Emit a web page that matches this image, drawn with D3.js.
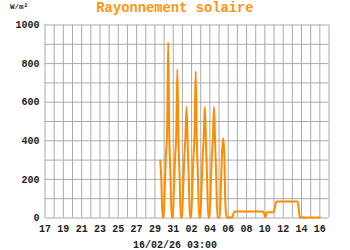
<!DOCTYPE html>
<html>
<head>
  <meta charset="UTF-8">
  <title>Rayonnement solaire</title>
  <script src="https://d3js.org/d3.v7.min.js"></script>
  <style>
    body { margin: 0; background: #fff; }
    svg text { font-family: "Liberation Mono", "Courier New", monospace; font-weight: bold; }
  </style>
</head>
<body>
  <svg width="350" height="250"></svg>
  <script>
    // Chart data (3-hour samples, first sample 29/01 15:00)
    const startTime = new Date(2026, 0, 29, 15);
    const stepHours = 3;
    const radiation = [
      299, 200, 0,                            // 29/01 15h..21h
      0, 150, 320, 430, 908, 410, 220, 0,     // 30/01
      0, 140, 310, 420, 767, 400, 210, 0,     // 31/01
      0, 130, 300, 410, 575, 390, 200, 0,     // 01/02
      0, 140, 310, 420, 758, 400, 210, 0,     // 02/02
      0, 130, 300, 410, 572, 390, 200, 0,     // 03/02
      0, 130, 300, 410, 572, 390, 200, 0,     // 04/02
      0, 0, 150, 330, 411, 330, 60, 0,        // 05/02
      0, 0, 0, 0, 0, 20, 31, 31,              // 06/02
      31, 31, 31, 31, 31, 31, 31, 31,         // 07/02
      31, 31, 31, 31, 31, 31, 31, 31,         // 08/02
      31, 31, 31, 31, 31, 31, 31, 31,         // 09/02
      15, 0, 27, 27, 27, 27, 27, 27,          // 10/02
      27, 45, 75, 83, 83, 83, 83, 83,         // 11/02
      83, 83, 83, 83, 83, 83, 83, 83,         // 12/02
      83, 83, 83, 83, 83, 83, 45, 0,          // 13/02
      0, 0, 0, 0, 0, 0, 0, 0,                 // 14/02
      0, 0, 0, 0, 0, 0, 0, 0,                 // 15/02
      0, 0                                    // 16/02 00h..03h
    ];

    // Axis ticks
    const xStart = new Date(2026, 0, 17);
    const xEnd = new Date(2026, 1, 17);
    const xTickDates = [
      "2026-01-17", "2026-01-19", "2026-01-21", "2026-01-23", "2026-01-25", "2026-01-27",
      "2026-01-29", "2026-01-31", "2026-02-02", "2026-02-04", "2026-02-06", "2026-02-08",
      "2026-02-10", "2026-02-12", "2026-02-14", "2026-02-16"
    ];
    const yTicks = [0, 200, 400, 600, 800, 1000];

    const title = "Rayonnement solaire";
    const unitLabel = "W/m²";
    const stampLabel = "16/02/26 03:00";

    const margin = { top: 24, right: 22, bottom: 33, left: 44 };
    const width = 350 - margin.left - margin.right;
    const height = 250 - margin.top - margin.bottom;

    const parseDay = d3.timeParse("%Y-%m-%d");
    const data = radiation.map((v, i) => ({ t: d3.timeHour.offset(startTime, i * stepHours), v: v }));

    const x = d3.scaleTime().domain([xStart, xEnd]).range([0, width]);
    const y = d3.scaleLinear().domain([0, 1000]).range([height, 0]);

    const svg = d3.select("svg");
    const g = svg.append("g")
      .attr("transform", `translate(${margin.left + 0.5}, ${margin.top + 0.5})`);

    // vertical grid, one line per day
    g.append("g")
      .attr("transform", `translate(0, ${height})`)
      .call(d3.axisBottom(x).tickValues(d3.timeDay.range(xStart, d3.timeDay.offset(xEnd, 1))).tickSize(-height).tickFormat(""))
      .call(a => a.select(".domain").remove())
      .call(a => a.selectAll("line").attr("stroke", "#aaa").attr("stroke-width", 1));

    // horizontal grid, every 100
    g.append("g")
      .call(d3.axisLeft(y).ticks(10).tickSize(-width).tickFormat(""))
      .call(a => a.select(".domain").remove())
      .call(a => a.selectAll("line").attr("stroke", "#aaa").attr("stroke-width", 1));

    // x labels
    g.append("g")
      .attr("transform", `translate(0, ${height})`)
      .call(d3.axisBottom(x).tickValues(xTickDates.map(parseDay)).tickSize(0).tickPadding(7).tickFormat(d3.timeFormat("%d")))
      .call(a => a.select(".domain").remove())
      .call(a => a.selectAll("text").attr("fill", "#222").style("font-size", "10px"));

    // y labels
    g.append("g")
      .call(d3.axisLeft(y).tickValues(yTicks).tickSize(0).tickPadding(5).tickFormat(d3.format("d")))
      .call(a => a.select(".domain").remove())
      .call(a => a.selectAll("text").attr("fill", "#222").style("font-size", "10px"));

    // series
    g.append("path")
      .datum(data)
      .attr("fill", "none")
      .attr("stroke", "#ff8c00")
      .attr("stroke-width", 2)
      .attr("stroke-linejoin", "round")
      .attr("d", d3.line().curve(d3.curveMonotoneX).x(d => x(d.t)).y(d => y(d.v)));

    // texts
    svg.append("text")
      .attr("x", 175).attr("y", 12)
      .attr("text-anchor", "middle")
      .attr("fill", "#ff9411")
      .style("font-size", "13.8px")
      .text(title);

    svg.append("text")
      .attr("x", 10).attr("y", 9)
      .attr("fill", "#222")
      .style("font-size", "7.5px")
      .text(unitLabel);

    svg.append("text")
      .attr("x", 175).attr("y", 247.5)
      .attr("text-anchor", "middle")
      .attr("fill", "#222")
      .style("font-size", "10px")
      .text(stampLabel);
  </script>
</body>
</html>
